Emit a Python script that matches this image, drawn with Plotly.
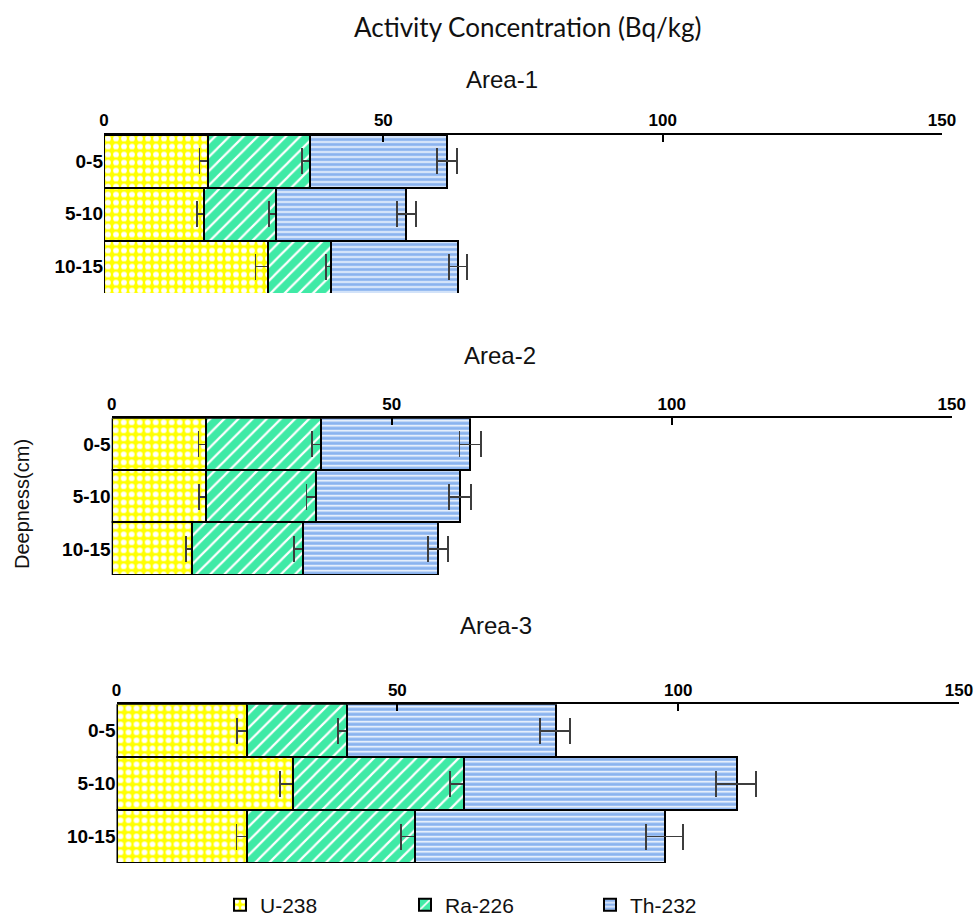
import plotly.graph_objects as go

depths = ["0-5", "5-10", "10-15"]
area_names = ["Area-1", "Area-2", "Area-3"]
nuclides = ["U-238", "Ra-226", "Th-232"]

# Activity concentrations (Bq/kg), one list per area and nuclide
u238_area1 = [18.6, 17.9, 29.4]
ra226_area1 = [18.3, 12.8, 11.3]
th232_area1 = [24.5, 23.4, 22.7]
u238_area2 = [16.7, 16.8, 14.3]
ra226_area2 = [20.7, 19.6, 19.8]
th232_area2 = [26.6, 25.8, 24.2]
u238_area3 = [23.2, 31.4, 23.1]
ra226_area3 = [17.8, 30.4, 30.0]
th232_area3 = [37.1, 48.5, 44.5]

# Uncertainties (Bq/kg)
u238_err_area1 = [1.5, 1.3, 2.3]
ra226_err_area1 = [1.5, 1.1, 1.0]
th232_err_area1 = [1.8, 1.7, 1.6]
u238_err_area2 = [1.2, 1.2, 1.1]
ra226_err_area2 = [1.6, 1.6, 1.5]
th232_err_area2 = [1.9, 1.9, 1.8]
u238_err_area3 = [1.7, 2.3, 1.75]
ra226_err_area3 = [1.5, 2.4, 2.4]
th232_err_area3 = [2.7, 3.5, 3.3]

x_ticks = [0, 50, 100, 150]

values = [
    [u238_area1, ra226_area1, th232_area1],
    [u238_area2, ra226_area2, th232_area2],
    [u238_area3, ra226_area3, th232_area3],
]
errors = [
    [u238_err_area1, ra226_err_area1, th232_err_area1],
    [u238_err_area2, ra226_err_area2, th232_err_area2],
    [u238_err_area3, ra226_err_area3, th232_err_area3],
]

W, H = 975, 917
colors = ["#FFFF00", "#3FEAA6", "#8AB3EF"]
patterns = [
    dict(shape=".", fgcolor="white", fgopacity=1, size=8, solidity=0.4, fillmode="overlay"),
    dict(shape="/", fgcolor="white", fgopacity=1, size=10, solidity=0.22, fillmode="overlay"),
    dict(shape="-", fgcolor="white", fgopacity=1, size=5, solidity=0.3, fillmode="overlay"),
]

# pixel boxes of each panel: (x0, x1, ytop, ybottom)
boxes = [(104, 942, 134.5, 293), (111.7, 951.7, 418.3, 575), (116.5, 959, 704.3, 863)]
title_pos = [(502, 80), (500, 355), (496, 625)]

fig = go.Figure()
for a in range(3):
    xa = "x" if a == 0 else f"x{a+1}"
    ya = "y" if a == 0 else f"y{a+1}"
    for n in range(3):
        fig.add_trace(go.Bar(
            y=depths, x=values[a][n], orientation="h", name=nuclides[n],
            xaxis=xa, yaxis=ya, legendgroup=nuclides[n], showlegend=(a == 0),
            marker=dict(color=colors[n], pattern=patterns[n],
                        line=dict(color="black", width=2)),
            error_x=dict(type="data", array=errors[a][n], color="#3d3d3d",
                         thickness=1.8, width=13),
        ))

layout = dict(
    width=W, height=H, barmode="stack", bargap=0,
    plot_bgcolor="white", paper_bgcolor="white",
    margin=dict(l=0, r=0, t=0, b=0, autoexpand=False),
    showlegend=True,
    legend=dict(orientation="h", x=220 / W, y=1 - 905 / H, xanchor="left", yanchor="middle",
                font=dict(family="Liberation Sans, Arial", size=21, color="#111"),
                entrywidth=140, entrywidthmode="pixels"),
)
for a in range(3):
    x0, x1, yt, yb = boxes[a]
    sx = "" if a == 0 else str(a + 1)
    layout[f"xaxis{sx}"] = dict(
        domain=[x0 / W, x1 / W], anchor=f"y{sx}", side="top", range=[0, 150],
        tickvals=x_ticks, ticks="inside", ticklen=7, tickwidth=2, tickcolor="black",
        showline=True, linecolor="black", linewidth=2, showgrid=False, zeroline=False,
        automargin=False,
        tickfont=dict(family="Liberation Sans, Arial", size=17, color="black", weight="bold"),
    )
    layout[f"yaxis{sx}"] = dict(
        domain=[1 - yb / H, 1 - yt / H], anchor=f"x{sx}", autorange="reversed",
        showgrid=False, zeroline=False, showline=False, ticks="", automargin=False,
        tickfont=dict(family="Liberation Sans, Arial", size=19, color="black", weight="bold"),
    )

annotations = [
    dict(text="Activity Concentration (Bq/kg)", x=527 / W, y=1 - 27 / H, xref="paper", yref="paper",
         xanchor="center", yanchor="middle",
         showarrow=False, font=dict(family="Lato", size=26, color="#111")),
    dict(text="Deepness(cm)", x=22 / W, y=1 - 504 / H, xref="paper", yref="paper",
         xanchor="center", yanchor="middle",
         showarrow=False, textangle=-90, font=dict(family="Liberation Sans, Arial", size=20, color="#111")),
]
for a in range(3):
    tx, ty = title_pos[a]
    annotations.append(dict(text=area_names[a], x=tx / W, y=1 - ty / H, xref="paper", yref="paper",
                            xanchor="center", yanchor="middle",
                            showarrow=False, font=dict(family="Liberation Sans, Arial", size=24, color="#111")))
layout["annotations"] = annotations

fig.update_layout(**layout)
fig.write_html("out.html", config={"displayModeBar": False},
               post_script="document.body.style.margin='0px';document.body.style.overflow='hidden';")
